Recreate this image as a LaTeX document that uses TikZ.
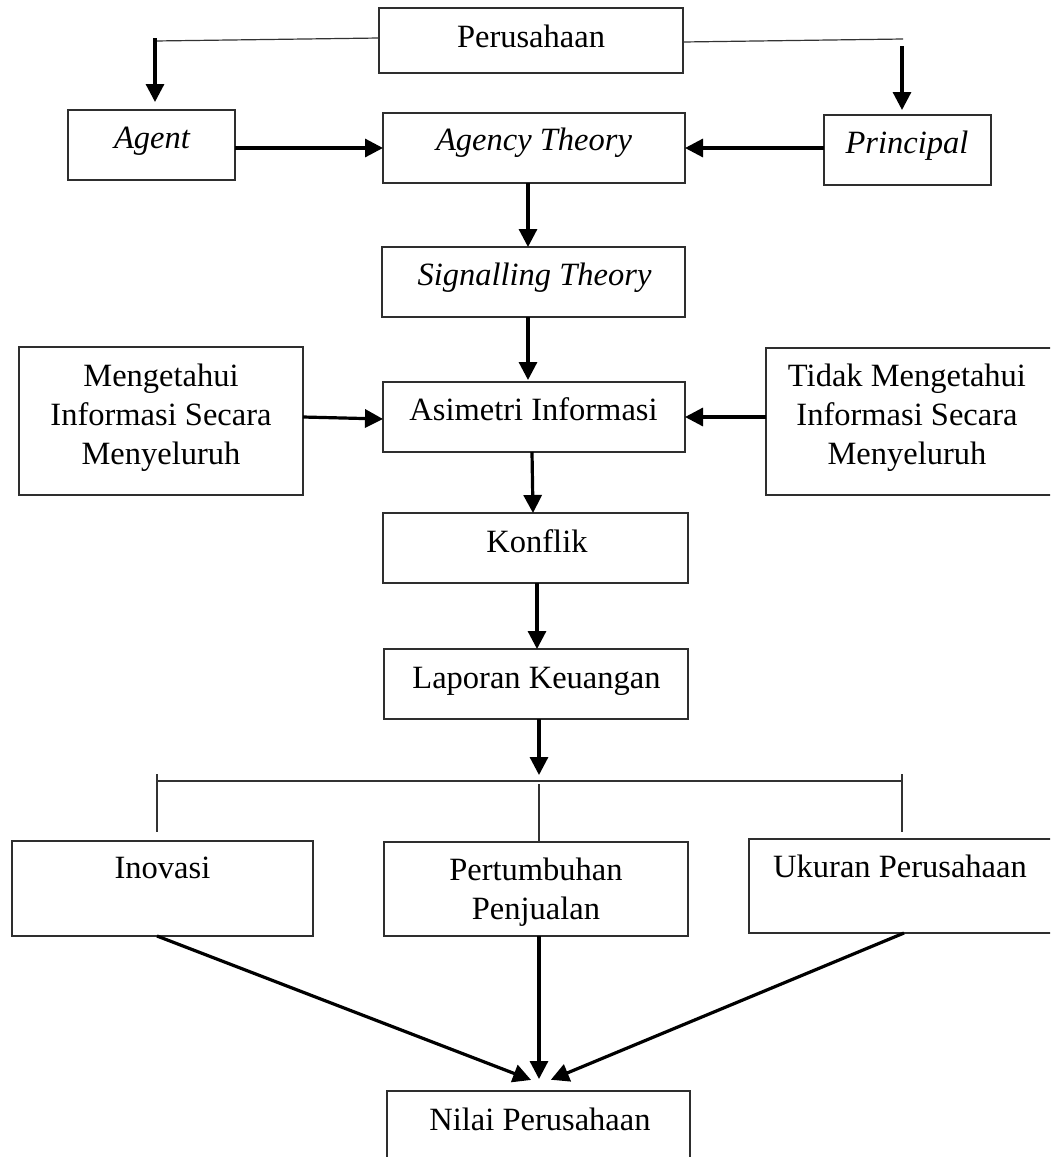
\documentclass[tikz,border=0pt]{standalone}
\usepackage{fontspec}
\setmainfont{Liberation Serif}
\usetikzlibrary{arrows.meta}
\definecolor{boxc}{HTML}{2E2E2E}
\definecolor{linec}{HTML}{333333}
\begin{document}
\begin{tikzpicture}[x=1pt,y=-1pt,
  box/.style={draw=boxc, line width=1.3pt, rectangle, inner sep=0pt, outer sep=0pt},
  lbl/.style={font=\fontsize{32.5}{39}\selectfont, inner sep=0pt, anchor=base},
  ilbl/.style={font=\fontsize{32.5}{39}\selectfont\itshape, inner sep=0pt, anchor=base},
  mlbl/.style={font=\fontsize{32.5}{39}\selectfont, inner sep=0pt, anchor=north, align=center},
  arr/.style={draw=black, line width=3.2pt, -{Triangle[length=18pt,width=18pt]}},
  thinl/.style={draw=linec, line width=1.2pt}]
\useasboundingbox (0,0) rectangle (1050,1157);
\fill[white] (0,0) rectangle (1050,1157);
\clip (0,0) rectangle (1050,1157);

% boxes
\node[box, minimum width=304pt, minimum height=65pt] (per) at (531,40.5) {};
\node[box, minimum width=167pt, minimum height=70pt] (agent) at (151.5,145) {};
\node[box, minimum width=302pt, minimum height=70pt] (agency) at (534,148) {};
\node[box, minimum width=167pt, minimum height=70pt] (principal) at (907.5,150) {};
\node[box, minimum width=303pt, minimum height=70pt] (signal) at (533.5,282) {};
\node[box, minimum width=284pt, minimum height=148pt] (meng) at (161,421) {};
\node[box, minimum width=302pt, minimum height=70pt] (asim) at (534,417) {};
\node[box, minimum width=289pt, minimum height=147pt] (tidak) at (910.5,421.5) {};
\node[box, minimum width=305pt, minimum height=70pt] (konflik) at (535.5,548) {};
\node[box, minimum width=304pt, minimum height=70pt] (lap) at (536,684) {};
\node[box, minimum width=301pt, minimum height=95pt] (inov) at (162.5,888.5) {};
\node[box, minimum width=304pt, minimum height=94pt] (pert) at (536,889) {};
\node[box, minimum width=306pt, minimum height=94pt] (uk) at (902,886) {};
\node[box, minimum width=303pt, minimum height=99pt] (nilai) at (538.5,1140.5) {};

% texts
\node[lbl] (perT) at (531,47) {Perusahaan};
\node[ilbl] (agentT) at (152,148) {Agent};
\node[ilbl] (agencyT) at (534,150) {Agency Theory};
\node[ilbl] (principalT) at (907,153) {Principal};
\node[ilbl] (signalT) at (534.5,285) {Signalling Theory};
\node[mlbl] (mengT) at (161,361) {\rule{0pt}{25pt}Mengetahui\\Informasi Secara\\Menyeluruh};
\node[lbl] (asimT) at (533.5,420) {Asimetri Informasi};
\node[mlbl] (tidakT) at (907,361) {\rule{0pt}{25pt}Tidak Mengetahui\\Informasi Secara\\Menyeluruh};
\node[lbl] (konflikT) at (537,552) {Konflik};
\node[lbl] (lapT) at (536.5,688) {Laporan Keuangan};
\node[lbl] (inovT) at (162.5,878) {Inovasi};
\node[mlbl] (pertT) at (536,855) {\rule{0pt}{25pt}Pertumbuhan\\Penjualan};
\node[lbl] (ukT) at (900,877) {Ukuran Perusahaan};
\node[lbl] (nilaiT) at (540,1130) {Nilai Perusahaan};

% top connectors
\coordinate (lEnd) at (155,41);
\coordinate (lTop) at (155,38);
\draw[thinl] (per.west |- 0,38) -- (lEnd);
\draw[arr, shorten >=8pt] (lTop) -- (agent.north -| lTop);
\coordinate (rEnd) at (903,39);
\coordinate (rTop) at (902,46);
\draw[thinl] (per.east |- 0,42) -- (rEnd);
\draw[arr, shorten >=5pt] (rTop) -- (principal.north -| rTop);

\draw[arr] (agent.east |- 0,148) -- (agency.west |- 0,148);
\draw[arr] (principal.west |- 0,148) -- (agency.east |- 0,148);
\draw[arr] (agency.south -| 528,0) -- (signal.north -| 528,0);
\draw[arr, shorten >=2pt] (signal.south -| 528,0) -- (asim.north -| 528,0);
\draw[arr] (meng.east |- 0,417) -- (asim.west |- 0,419);
\draw[arr] (tidak.west |- 0,417) -- (asim.east |- 0,417);
\draw[arr] (asim.south -| 532,0) -- (konflik.north -| 533,0);
\draw[arr] (konflik.south -| 537,0) -- (lap.north -| 537,0);

% bracket
\coordinate (brTop) at (539,775);
\coordinate (brL) at (157,781);
\coordinate (brR) at (902,781);
\coordinate (tickLt) at (157,774);
\coordinate (tickLb) at (157,832);
\coordinate (tickRt) at (902,774);
\coordinate (tickRb) at (902,832);
\coordinate (brMid) at (539,784);
\draw[arr] (lap.south -| brTop) -- (brTop);
\draw[thinl] (brL) -- (brR);
\draw[thinl] (tickLt) -- (tickLb);
\draw[thinl] (tickRt) -- (tickRb);
\draw[thinl] (brMid) -- (pert.north -| brMid);

% bottom arrows
\draw[arr, shorten >=30.8pt] (inov.south -| 157,0) -- (nilai.north -| 559.8,0);
\draw[arr, shorten >=12pt] (pert.south -| 539,0) -- (nilai.north -| 539,0);
\draw[arr, shorten >=29.3pt] (uk.south -| 904,0) -- (nilai.north -| 523.8,0);
\end{tikzpicture}
\end{document}
